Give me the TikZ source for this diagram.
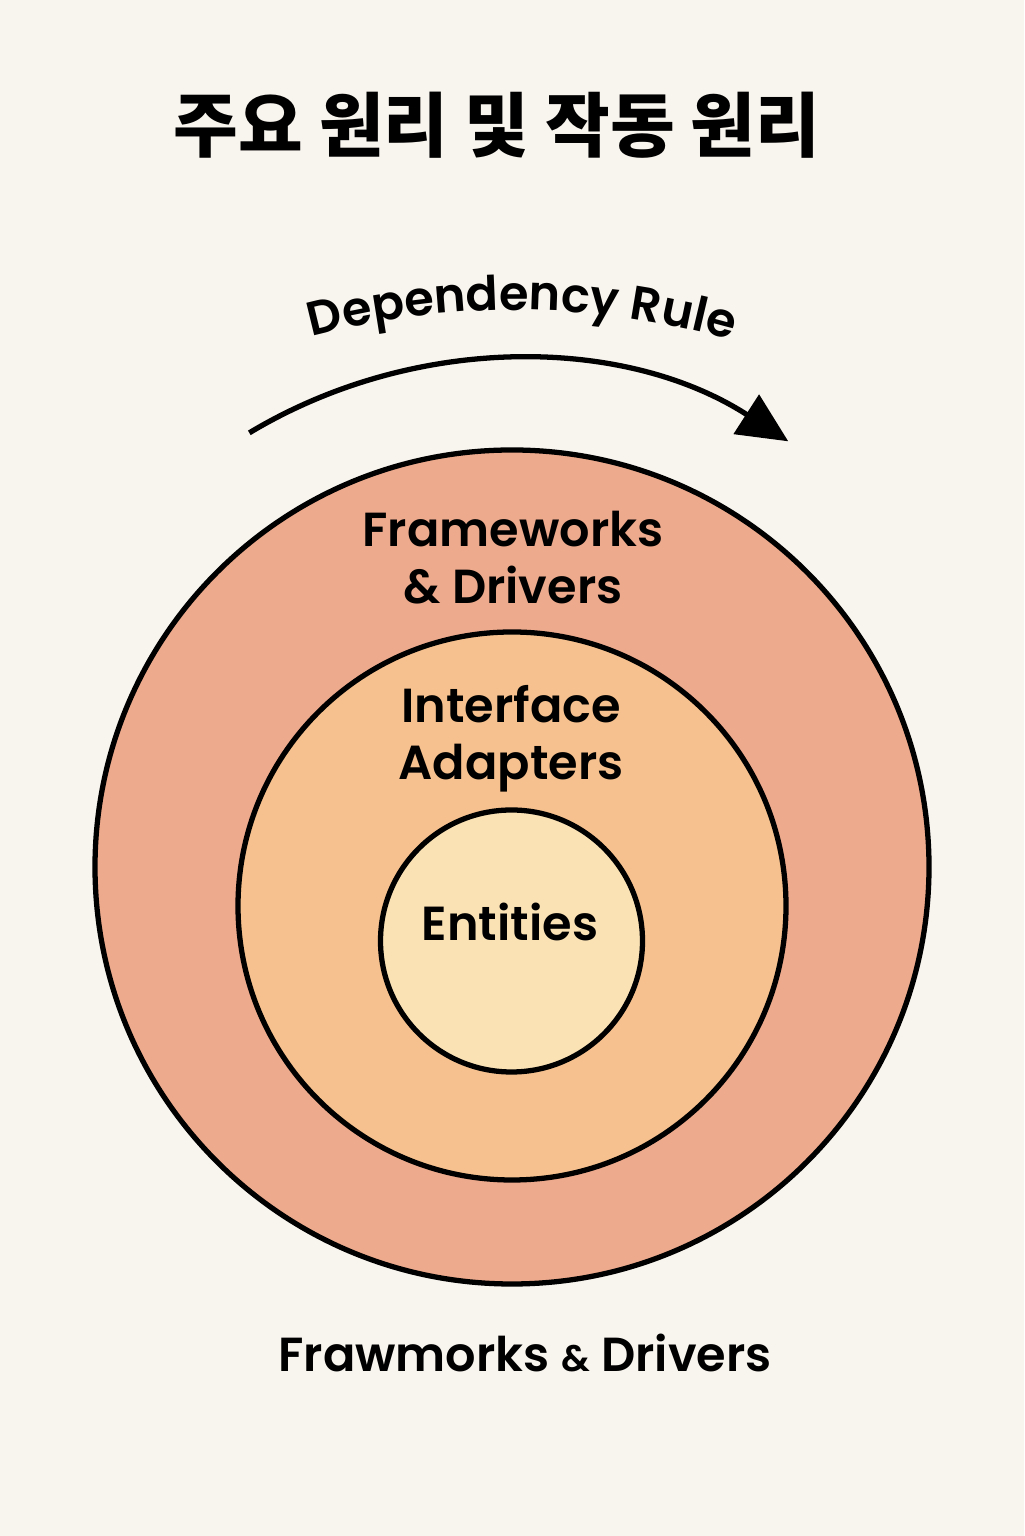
\documentclass[tikz,border=0pt]{standalone}
\usepackage{fontspec}
\newfontfamily\labelfont{Poppins}[UprightFont={* SemiBold}]
\newfontfamily\cjk{Noto Sans CJK KR}
\usetikzlibrary{arrows.meta,positioning,decorations.text}
\definecolor{cBG}{HTML}{F8F4EE}
\definecolor{cOuter}{HTML}{EEAA8D}
\definecolor{cMid}{HTML}{F6C18E}
\definecolor{cCore}{HTML}{FAE2B5}

\begin{document}
\begin{tikzpicture}[>=Stealth,
  ring/.style={circle, draw=black, line width=1.5pt, inner sep=0pt},
  lbl/.style={font=\labelfont\fontsize{13.6}{16.2}\selectfont, align=center}]
\fill[cBG] (0,0) rectangle (10.24,15.36);
\useasboundingbox (0,0) rectangle (10.24,15.36);
% title
\node[font=\cjk\bfseries\fontsize{20}{24}\selectfont] (title) at (4.97,14.11) {주요 원리 및 작동 원리};
% rings, outside in
\node[ring, fill=cOuter, minimum size=8.34cm] (outer) at (5.12,6.69) {};
\node[ring, fill=cMid, minimum size=5.48cm] (middle) at (5.12,6.30) {};
\node[ring, fill=cCore, minimum size=2.62cm] (inner) at (5.115,5.95) {};
\node[lbl] (fw) at (5.13,9.78) {Frameworks\\\& Drivers};
\node[lbl] (ia) at (5.11,7.97) {Interface\\Adapters};
\node[lbl] (ent) at (5.10,6.14) {Entities};
% dependency rule arrow
\coordinate (ruleC) at (5.12,6.66);
\draw[line width=1.5pt, -{Triangle[length=0.5cm, width=0.46cm]}]
  ([shift={(121:5.1)}]ruleC) arc[start angle=121, end angle=57.2, radius=5.1];
\coordinate (textC) at (5.15,4.36);
\path[decorate, decoration={text along path, text align=center,
  text={|\labelfont\fontsize{13.6}{16.2}\selectfont|Dependency Rule}}]
  ([shift={(107:7.9)}]textC) arc[start angle=107, end angle=72, radius=7.9];
\node[lbl] (foot) at (5.25,1.83) {Frawmorks {\fontsize{10.5}{12}\selectfont\&} Drivers};
\end{tikzpicture}
\end{document}
